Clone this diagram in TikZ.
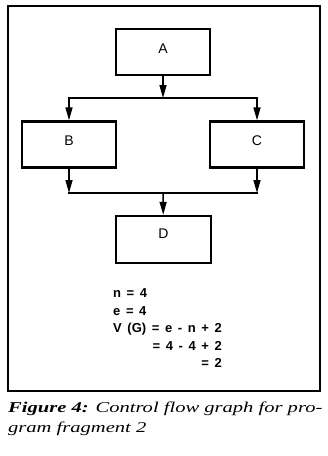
\documentclass[tikz,border=0pt]{standalone}
\usepackage{fontspec}
\setmainfont{Liberation Serif}
\newfontfamily\diagfont{Liberation Sans}
\newfontfamily\eqfont[WordSpace=1.55]{Liberation Sans}
\newfontfamily\capfont[FakeStretch=1.37]{Liberation Serif}
\usetikzlibrary{arrows.meta}
\begin{document}
\begin{tikzpicture}[x=1pt,y=-1pt,
  box/.style={draw, line width=2.4pt, minimum width=94pt, minimum height=46pt, inner sep=0pt,
    font=\diagfont\fontsize{14}{16}\selectfont, text height=10pt, text depth=8pt},
  conn/.style={line width=1.5pt, -{Triangle[length=13pt,width=7pt]}},
  wire/.style={line width=1.5pt, line cap=rect},
  frame/.style={line width=1.4pt},
  eq/.style={font=\eqfont\bfseries\fontsize{13}{15}\selectfont, inner sep=0pt},
  captext/.style={font=\capfont\itshape\fontsize{15}{18}\selectfont, inner sep=0pt, anchor=base west}]
\useasboundingbox (0,0) rectangle (328,456);
\draw[frame] (8,6) rectangle (320,391);
\node[box] (A) at (163,52) {A};
\node[box] (B) at (69,144.5) {B};
\node[box] (C) at (257,144.5) {C};
\node[box, text depth=12pt, minimum height=47pt, minimum width=95pt] (D) at (163.5,239.5) {D};
\coordinate (s1) at (163,98);
\coordinate (s1L) at (69,98);
\coordinate (s1R) at (257,98);
\coordinate (m1) at (163,193);
\coordinate (m1L) at (69,193);
\coordinate (m1R) at (257,193);
\draw[conn] (A) -- (s1);
\draw[wire] (s1L) -- (s1R);
\draw[conn] (s1L) -- (B);
\draw[conn] (s1R) -- (C);
\draw[conn] (B) -- (m1L);
\draw[conn] (C) -- (m1R);
\draw[wire] (m1L) -- (m1R);
\draw[conn] (m1) -- (D);
\node[eq, anchor=base west] (e1) at (113,297.5) {n = 4};
\node[eq, anchor=base west] (e2) at (113,315) {e = 4};
\node[eq, anchor=base west] (e3) at (113,332) {V (G) = e - n + 2};
\node[eq, anchor=base east] (e4) at (222,350) {= 4 - 4 + 2};
\node[eq, anchor=base east] (e5) at (222,367) {= 2};
\node[captext] (c1) at (8,412) {{\bfseries Figure 4:} Control flow graph for pro-};
\node[captext] (c2) at (8,432) {gram fragment 2};
\end{tikzpicture}
\end{document}
